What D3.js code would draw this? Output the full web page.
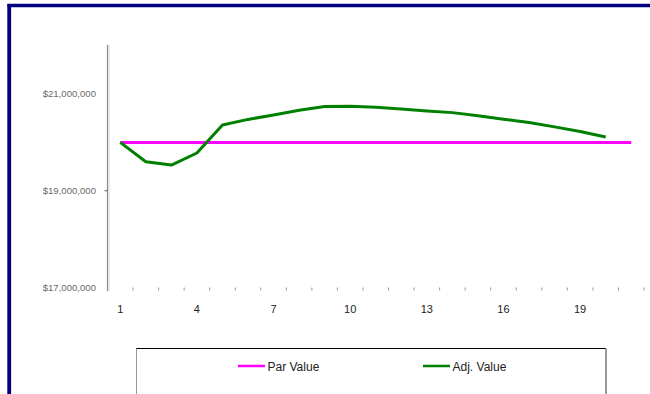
<!DOCTYPE html>
<html>
<head>
<meta charset="utf-8">
<script src="https://cdn.jsdelivr.net/npm/d3@7"></script>
<style>
  html, body { margin: 0; padding: 0; background: #fff; }
  svg { display: block; }
  text { font-family: "Liberation Sans", Arial, sans-serif; }
</style>
</head>
<body>
<svg id="chart" width="650" height="394"></svg>
<script>
// Years of the schedule
const categories = [1,2,3,4,5,6,7,8,9,10,11,12,13,14,15,16,17,18,19,20,21];
// Par value held flat across every year
const parValue = [20000000,20000000,20000000,20000000,20000000,20000000,20000000,
  20000000,20000000,20000000,20000000,20000000,20000000,20000000,20000000,
  20000000,20000000,20000000,20000000,20000000,20000000];
// Adjusted value, years 1-20
const adjValue = [20000000,19600000,19530000,19780000,20360000,20475000,20565000,
  20665000,20740000,20745000,20725000,20690000,20650000,20615000,20550000,
  20480000,20410000,20320000,20225000,20110000];
const yTicks = [17000000, 19000000, 21000000];
const xTickLabels = ["1","4","7","10","13","16","19"];
const seriesNames = ["Par Value", "Adj. Value"];
const seriesColors = ["#ff00ff", "#008000"];

const svg = d3.select("#chart");

// Frame: navy rule along top and left edges
svg.append("line").attr("x1", 7.5).attr("x2", 650).attr("y1", 5.5).attr("y2", 5.5)
  .attr("stroke", "#000080").attr("stroke-width", 3.5);
svg.append("line").attr("x1", 9.2).attr("x2", 9.2).attr("y1", 4).attr("y2", 394)
  .attr("stroke", "#000080").attr("stroke-width", 3.8);

const plotLeft = 107.5, plotRight = 644, plotTop = 45;

const xBand = d3.scaleBand().domain(categories).range([plotLeft, plotRight]).padding(0);
const xPos = c => xBand(c) + xBand.bandwidth() / 2;
const y = d3.scaleLinear().domain([17000000, 21000000]).range([287.5, 94]);

// Value axis line
svg.append("line").attr("x1", plotLeft).attr("x2", plotLeft).attr("y1", plotTop).attr("y2", 291)
  .attr("stroke", "#8c8c8c").attr("stroke-width", 1.2);
svg.append("line").attr("x1", plotLeft + 1.5).attr("x2", plotLeft + 1.5).attr("y1", plotTop).attr("y2", 291)
  .attr("stroke", "#d8d8d8").attr("stroke-width", 1);
svg.append("line").attr("x1", plotLeft - 3).attr("x2", plotLeft).attr("y1", y(19000000)).attr("y2", y(19000000))
  .attr("stroke", "#555").attr("stroke-width", 1);

const fmt = d3.format("$,.0f");
svg.append("g").selectAll("text").data(yTicks).join("text")
  .attr("x", 96).attr("y", d => y(d)).attr("dy", "0.35em")
  .attr("text-anchor", "end").attr("font-size", 9.6).attr("fill", "#6a6a6a")
  .text(d => fmt(d));

// Category ticks at band boundaries
svg.append("g").selectAll("line").data(categories).join("line")
  .attr("x1", d => xBand(d) + xBand.bandwidth()).attr("x2", d => xBand(d) + xBand.bandwidth())
  .attr("y1", 287.5).attr("y2", 290.5)
  .attr("stroke", "#999").attr("stroke-width", 1);

svg.append("g").selectAll("text").data(xTickLabels).join("text")
  .attr("x", d => xPos(+d)).attr("y", 313)
  .attr("text-anchor", "middle").attr("font-size", 11).attr("fill", "#222")
  .text(d => d);

const line = d3.line().x((d, i) => xPos(categories[i])).y(d => y(d));

svg.append("path").datum(parValue).attr("d", line)
  .attr("fill", "none").attr("stroke", seriesColors[0]).attr("stroke-width", 3);
svg.append("path").datum(adjValue).attr("d", line)
  .attr("fill", "none").attr("stroke", seriesColors[1]).attr("stroke-width", 3)
  .attr("stroke-linejoin", "round");

// Legend box (extends past the bottom edge)
const lg = svg.append("g");
lg.append("line").attr("x1", 136).attr("x2", 606).attr("y1", 348.5).attr("y2", 348.5)
  .attr("stroke", "#000").attr("stroke-width", 1);
lg.append("line").attr("x1", 136.5).attr("x2", 136.5).attr("y1", 348.5).attr("y2", 394)
  .attr("stroke", "#999").attr("stroke-width", 1);
lg.append("line").attr("x1", 606).attr("x2", 606).attr("y1", 348.5).attr("y2", 394)
  .attr("stroke", "#999").attr("stroke-width", 2);

const legendX = [238, 423];
seriesNames.forEach((name, i) => {
  lg.append("line").attr("x1", legendX[i]).attr("x2", legendX[i] + 27)
    .attr("y1", 366).attr("y2", 366)
    .attr("stroke", seriesColors[i]).attr("stroke-width", 2.5);
  lg.append("text").attr("x", legendX[i] + 29.5).attr("y", 370.5)
    .attr("font-size", 12).attr("fill", "#222").text(name);
});
</script>
</body>
</html>
